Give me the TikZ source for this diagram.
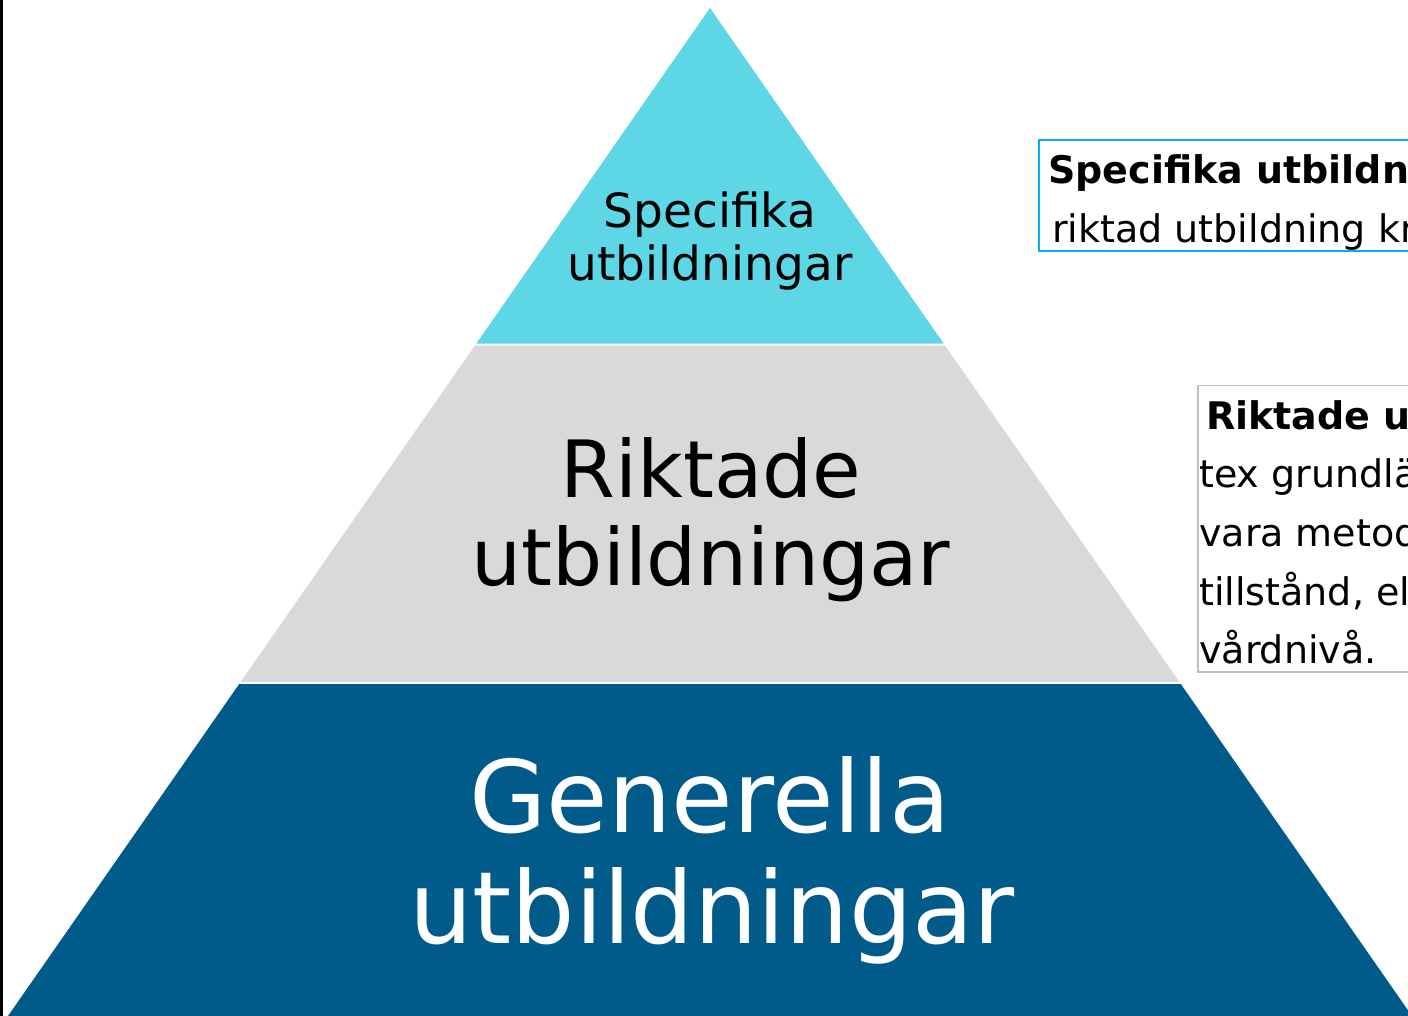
\documentclass[tikz,border=0pt]{standalone}
\usepackage{fontspec}
\setmainfont{DejaVu Sans}
\definecolor{tiercyan}{RGB}{93,214,230}
\definecolor{tiergray}{RGB}{217,217,217}
\definecolor{tierblue}{RGB}{0,91,138}
\definecolor{boxcyan}{RGB}{0,176,240}
\definecolor{boxgray}{RGB}{191,191,191}
\begin{document}
\begin{tikzpicture}[x=1pt,y=-1pt,
  tiertext/.style={inner sep=0pt, anchor=base},
  boxtext/.style={inner sep=0pt, anchor=base west, font=\fontsize{38}{38}\selectfont}]
\useasboundingbox (0,0) rectangle (1408,1016);
\clip (0,0) rectangle (1408,1016);
\fill[white] (0,0) rectangle (1408,1016);
\fill[black] (0,0) rectangle (2.5,1016);
% pyramid tiers
\fill[tiercyan] (710,8) -- (943.6,343.5) -- (476.4,343.5) -- cycle;
\fill[tiergray] (475,345.5) -- (945,345.5) -- (1179.4,682) -- (240.6,682) -- cycle;
\fill[tierblue] (239.2,684) -- (1180.8,684) -- (1412,1016) -- (8,1016) -- cycle;
% tier labels
\node[tiertext, font=\fontsize{47}{47}\selectfont] (top1) at (710,228) {Specifika};
\node[tiertext, font=\fontsize{47}{47}\selectfont] (top2) at (710,281) {utbildningar};
\node[tiertext, font=\fontsize{79}{79}\selectfont] (mid1) at (711,497) {Riktade};
\node[tiertext, font=\fontsize{79}{79}\selectfont] (mid2) at (711,585) {utbildningar};
\node[tiertext, text=white, font=\fontsize{100}{100}\selectfont] (bot1) at (710,832) {Generella};
\node[tiertext, text=white, font=\fontsize{100}{100}\selectfont] (bot2) at (712,943) {utbildningar};
% side boxes
\draw[boxcyan, line width=1.5pt] (1039,140) rectangle (1420,251);
\node[boxtext, font=\fontsize{38}{38}\selectfont\bfseries] (b1a) at (1048,184) {Specifika utbildni};
\node[boxtext] (b1b) at (1052,243) {riktad utbildning kr};
\draw[boxgray, line width=1.5pt] (1198,385.5) rectangle (1420,672);
\node[boxtext, font=\fontsize{38}{38}\selectfont\bfseries] (b2a) at (1206,429) {Riktade u};
\node[boxtext] (b2b) at (1199,487) {tex grundlä};
\node[boxtext] (b2c) at (1199,546) {vara metod};
\node[boxtext] (b2d) at (1199,605) {tillstånd, el};
\node[boxtext] (b2e) at (1199,663) {vårdnivå.};
\end{tikzpicture}
\end{document}
